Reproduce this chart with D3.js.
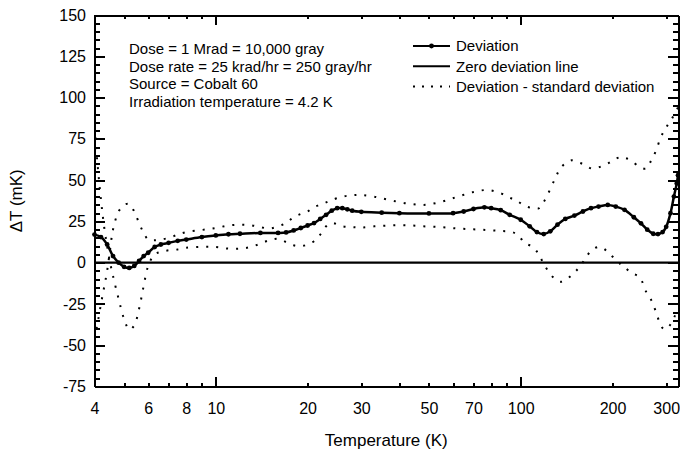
<!DOCTYPE html>
<html lang="en">
<head>
<meta charset="UTF-8">
<title>Irradiation deviation</title>
<style>
  body { margin: 0; background: #fff; }
  svg { display: block; font-family: 'Liberation Sans', Arial, sans-serif; }
  .axis path, .axis line { stroke: #000; stroke-width: 2; shape-rendering: crispEdges; }
  .axis text { font-size: 16px; fill: #000; }
  .note { font-size: 15px; }
  .title { font-size: 17px; }
</style>
</head>
<body>
<svg id="chart" width="680" height="453"></svg>
<script src="https://d3js.org/d3.v7.min.js"></script>
<script>
// deviation curve (temperature K, delta T mK)
const devTemps = [4, 4.2, 4.4, 4.6, 4.8, 5.0, 5.2, 5.4, 5.6, 5.8, 6.0, 6.3, 6.6, 7, 7.5, 8, 9, 10, 11, 12, 14, 16, 17, 18, 19, 20, 21, 22, 23, 24, 25, 26, 27, 28, 30, 35, 40, 50, 60, 65, 70, 76, 80, 86, 92, 100, 107, 113, 119, 125, 132, 140, 150, 160, 170, 180, 193, 205, 219, 235, 248, 260, 272, 282, 292, 300, 310, 318, 325, 328];
const devValues = [17, 15.5, 11, 4, 0, -2.5, -3.2, -2, 1, 4, 6, 9.5, 11, 12, 13.2, 14, 15.5, 16.5, 17.2, 17.5, 18, 18, 18.3, 19.5, 21, 22.5, 24, 26.5, 29, 31.5, 33, 33, 32.3, 31.5, 30.8, 30.3, 30, 29.8, 30, 31, 32.5, 33.5, 33, 31.8, 29, 26, 22, 18.5, 17.3, 19, 23, 26.5, 28.5, 31, 33, 34, 35, 34, 32, 27.5, 23.8, 20, 17.5, 17.3, 18.5, 21.7, 30, 40, 48, 53];

// deviation +/- standard deviation (two dotted curves)
const bandTemps = [4, 4.1, 4.2, 4.3, 4.4, 4.5, 4.6, 4.8, 5.0, 5.2, 5.4, 5.6, 5.8, 6.0, 6.3, 6.6, 7, 7.5, 8, 9, 10, 11, 12, 13, 14, 15, 16, 17, 18, 19, 20, 21, 22, 23, 24, 26, 28, 30, 33, 37, 42, 48, 55, 62, 70, 78, 86, 93, 98, 103, 110, 115, 120, 129, 136, 147, 156, 163, 171, 182, 193, 203, 213, 219, 230, 245, 258, 268, 278, 288, 296, 305, 315, 328];
const bandA = [82, 58, 38, 22, 10, 0, -8, -22, -34, -40.5, -38, -28, -14, -2, 5, 6.5, 7.5, 8, 9, 9.6, 9.5, 8.5, 8.5, 9.5, 11.5, 13.6, 14.5, 12.5, 10.5, 10, 11, 13, 17, 22, 24, 22, 21.5, 21.3, 22, 22.5, 22.7, 22, 21.5, 20.7, 20.2, 19.7, 19.2, 18.7, 16.7, 12, 9.3, 4.5, -2, -9.6, -11.6, -7.6, -2.5, 2.5, 7.6, 9.6, 6.5, 2.5, -1, -2.5, -6.2, -8.6, -17.7, -22.7, -30, -38, -40.4, -39, -35, -28];
const bandB = [-46, -36, -25, -15, -5, 8, 20, 31, 35, 35.5, 31, 24, 18, 14, 13.6, 14, 15, 17, 18.5, 19.8, 21, 22.5, 23, 22.7, 21.5, 20.7, 22, 24, 27.6, 29.5, 31, 33.7, 35, 36.5, 37.9, 40, 40.8, 41, 40, 38, 36, 35, 36.9, 39.9, 42.8, 44, 42, 39, 37, 34.5, 32.9, 33, 37.9, 50, 58, 62, 60.5, 59, 57, 58, 60, 62.5, 64, 63.5, 62, 58, 57, 62, 68, 76, 80, 84, 88, 94];

const xTicks = [4, 5, 6, 7, 8, 9, 10, 20, 30, 40, 50, 60, 70, 80, 90, 100, 200, 300];
const xLabels = [4, 6, 8, 10, 20, 30, 50, 70, 100, 200, 300];
const xMajor = [10, 100];
const yTicks = d3.range(-75, 151, 5);
const yLabels = d3.range(-75, 151, 25);

const notes = ["Dose = 1 Mrad = 10,000 gray", "Dose rate = 25 krad/hr = 250 gray/hr", "Source = Cobalt 60", "Irradiation temperature = 4.2 K"];
const legendNames = ["Deviation", "Zero deviation line", "Deviation - standard deviation"];

const svg = d3.select("#chart");
const pL = 94.5, pR = 678, pT = 15, pB = 386.5;

const x = d3.scaleLog().domain([4, 328]).range([pL, pR]);
const y = d3.scaleLinear().domain([-75, 150]).range([pB, pT]);

svg.append("clipPath").attr("id", "plotClip")
  .append("rect").attr("x", pL).attr("y", pT).attr("width", pR - pL).attr("height", pB - pT);

const plot = svg.append("g").attr("clip-path", "url(#plotClip)");

// zero line
plot.append("line")
  .attr("x1", pL).attr("x2", pR)
  .attr("y1", y(0)).attr("y2", y(0))
  .attr("stroke", "#000").attr("stroke-width", 2.2);

const line = d3.line().x(d => x(d[0])).y(d => y(d[1])).curve(d3.curveCatmullRom.alpha(0.5));

[bandA, bandB].forEach(b => {
  plot.append("path")
    .datum(bandTemps.map((t, i) => [t, b[i]]))
    .attr("d", line)
    .attr("fill", "none").attr("stroke", "#000")
    .attr("stroke-width", 2).attr("stroke-dasharray", "2,8");
});

const devData = devTemps.map((t, i) => [t, devValues[i]]);
plot.append("path").datum(devData).attr("d", line)
  .attr("fill", "none").attr("stroke", "#000").attr("stroke-width", 2.5);
svg.append("g").selectAll("circle").data(devData).enter().append("circle")
  .attr("cx", d => x(d[0])).attr("cy", d => y(d[1])).attr("r", 2.4).attr("fill", "#000");

// axes
const fmtX = d => xLabels.includes(d) ? d : "";
const bottomAxis = svg.append("g").attr("class", "axis").attr("transform", `translate(0,${pB})`)
  .call(d3.axisBottom(x).tickValues(xTicks).tickFormat(fmtX).tickSizeInner(-4).tickSizeOuter(0).tickPadding(16));
bottomAxis.selectAll(".tick line").attr("y2", d => xMajor.includes(d) ? -10 : -4);

const topAxis = svg.append("g").attr("class", "axis").attr("transform", `translate(0,${pT})`)
  .call(d3.axisTop(x).tickValues(xTicks).tickFormat("").tickSizeInner(-4).tickSizeOuter(0));
topAxis.selectAll(".tick line").attr("y2", d => xMajor.includes(d) ? 10 : 4);

const leftAxis = svg.append("g").attr("class", "axis").attr("transform", `translate(${pL},0)`)
  .call(d3.axisLeft(y).tickValues(yTicks).tickFormat(d => yLabels.includes(d) ? d : "").tickSizeInner(-5).tickSizeOuter(0).tickPadding(8.5));
leftAxis.selectAll(".tick line").attr("x2", d => d % 25 === 0 ? 10 : 5);

const rightAxis = svg.append("g").attr("class", "axis").attr("transform", `translate(${pR},0)`)
  .call(d3.axisRight(y).tickValues(yTicks).tickFormat("").tickSizeInner(-5).tickSizeOuter(0));
rightAxis.selectAll(".tick line").attr("x2", d => d % 25 === 0 ? -10 : -5);

svg.selectAll(".axis .domain").attr("stroke-width", 2.4);

// axis titles
svg.append("text").attr("class", "title")
  .attr("x", (pL + pR) / 2).attr("y", 446).attr("text-anchor", "middle")
  .text("Temperature (K)");
svg.append("text").attr("class", "title")
  .attr("transform", `translate(22,${(pT + pB) / 2}) rotate(-90)`)
  .attr("text-anchor", "middle")
  .text("\u0394T (mK)");

// notes
svg.append("g").selectAll("text").data(notes).enter().append("text")
  .attr("class", "note").attr("x", 129).attr("y", (d, i) => 54.3 + i * 17.5)
  .text(d => d);

// legend
const lg = svg.append("g").attr("transform", "translate(413,0)");
legendNames.forEach((name, i) => {
  const ly = 46 + i * 20.3;
  const l = lg.append("line").attr("x1", 0).attr("x2", 37).attr("y1", ly).attr("y2", ly)
    .attr("stroke", "#000").attr("stroke-width", 2);
  if (i === 2) l.attr("stroke-dasharray", "2,7");
  if (i === 0) lg.append("circle").attr("cx", 18.5).attr("cy", ly).attr("r", 2.4);
  lg.append("text").attr("class", "note").attr("x", 43).attr("y", ly + 5.3).text(name);
});
</script>
</body>
</html>
